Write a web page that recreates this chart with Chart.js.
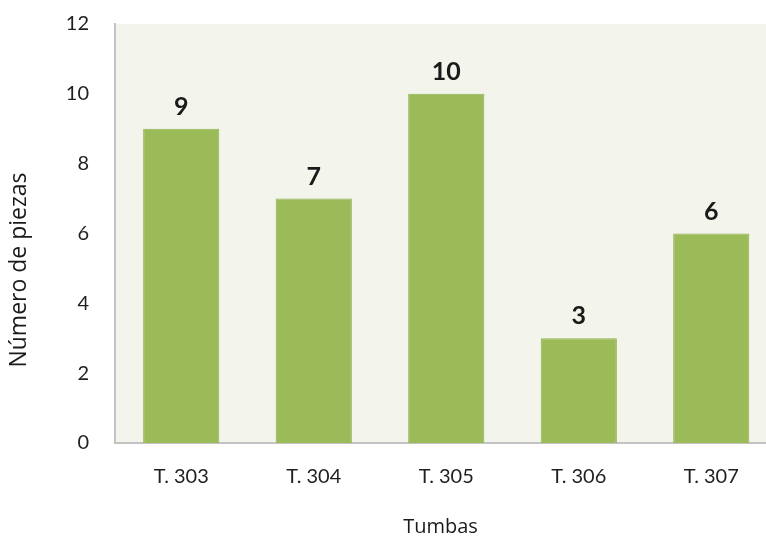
<!DOCTYPE html>
<html>
<head>
<meta charset="utf-8">
<script src="https://cdn.jsdelivr.net/npm/chart.js@4"></script>
<style>
  html,body{margin:0;padding:0;background:#fff}
  #wrap{width:766px;height:537px;position:relative}
</style>
</head>
<body>
<div id="wrap"><canvas id="c"></canvas></div>
<script>
// tombs and how many pieces each one held
const TOMBS  = ['T. 303', 'T. 304', 'T. 305', 'T. 306', 'T. 307'];
const PIECES = [9, 7, 10, 3, 6];
const Y_TICKS = [0, 2, 4, 6, 8, 10, 12];
const Y_TITLE = 'Número de piezas';

const FONT = 'Lato, "Open Sans", sans-serif';
const TITLE_FONT = '"Open Sans", "Noto Sans", sans-serif';

// light plot background, bold value labels, y title (sits lower than the axis centre)
const plotBg = {
  id: 'plotBg',
  beforeDraw(chart) {
    const {ctx, chartArea:a} = chart;
    ctx.save();
    ctx.fillStyle = '#f3f4eb';
    ctx.fillRect(a.left, a.top, a.right - a.left, a.bottom - a.top);
    ctx.restore();
  }
};
const valueLabels = {
  id: 'valueLabels',
  afterDatasetsDraw(chart) {
    const {ctx} = chart;
    const meta = chart.getDatasetMeta(0);
    ctx.save();
    ctx.font = 'bold 25px ' + FONT;
    ctx.fillStyle = '#1a1a1a';
    ctx.textAlign = 'center';
    ctx.textBaseline = 'alphabetic';
    meta.data.forEach((bar, i) => ctx.fillText(String(PIECES[i]), bar.x, bar.y - 14));
    ctx.restore();
  }
};
const yTitle = {
  id: 'yTitle',
  afterDraw(chart) {
    const {ctx} = chart;
    ctx.save();
    ctx.translate(19, 270);
    ctx.rotate(-Math.PI / 2);
    ctx.font = '23px ' + TITLE_FONT;
    ctx.fillStyle = '#1a1a1a';
    ctx.textAlign = 'center';
    ctx.textBaseline = 'middle';
    ctx.fillText(Y_TITLE, 0, 0);
    ctx.restore();
  }
};

new Chart(document.getElementById('c'), {
  type: 'bar',
  data: {
    datasets: [{
      data: PIECES.map((v, i) => ({x: i, y: v})),
      backgroundColor: '#9bbb59',
      borderColor: '#91b150',
      borderWidth: 1,
      barPercentage: 0.575,
      categoryPercentage: 1,
    }],
  },
  options: {
    responsive: true, maintainAspectRatio: false, animation: false,
    layout: { padding: { top: 24, right: 0, left: 0, bottom: 0 } },
    plugins: { legend: { display: false }, tooltip: { enabled: false } },
    scales: {
      x: {
        type: 'linear', min: -0.5, max: 4.413, offset: false,
        afterBuildTicks: s => { s.ticks = TOMBS.map((_, i) => ({value: i})); },
        afterFit: s => { s.height = 94; s.paddingLeft = 0; s.paddingRight = 0; },
        grid: { display: false, drawTicks: false },
        border: { color: '#c3c3c3', width: 2 },
        ticks: { color: '#1f1f1f', font: { family: FONT, size: 20 }, padding: 22, maxRotation: 0, autoSkip: false,
                 callback: v => TOMBS[v] ?? '' },
        title: { display: true, text: 'Tumbas', color: '#1a1a1a', font: { family: TITLE_FONT, size: 20, lineHeight: 1 }, padding: { top: 0, bottom: 0 } },
      },
      y: {
        min: 0, max: 12,
        afterBuildTicks: s => { s.ticks = Y_TICKS.map(v => ({value: v})); },
        afterFit: s => { s.width = 115; s.paddingTop = 0; s.paddingBottom = 0; },
        grid: { display: false, drawTicks: false },
        border: { color: '#c3c3c3', width: 2 },
        ticks: { color: '#1f1f1f', font: { family: FONT, size: 20 }, padding: 26 },
      },
    },
  },
  plugins: [plotBg, valueLabels, yTitle],
});
</script>
</body>
</html>
